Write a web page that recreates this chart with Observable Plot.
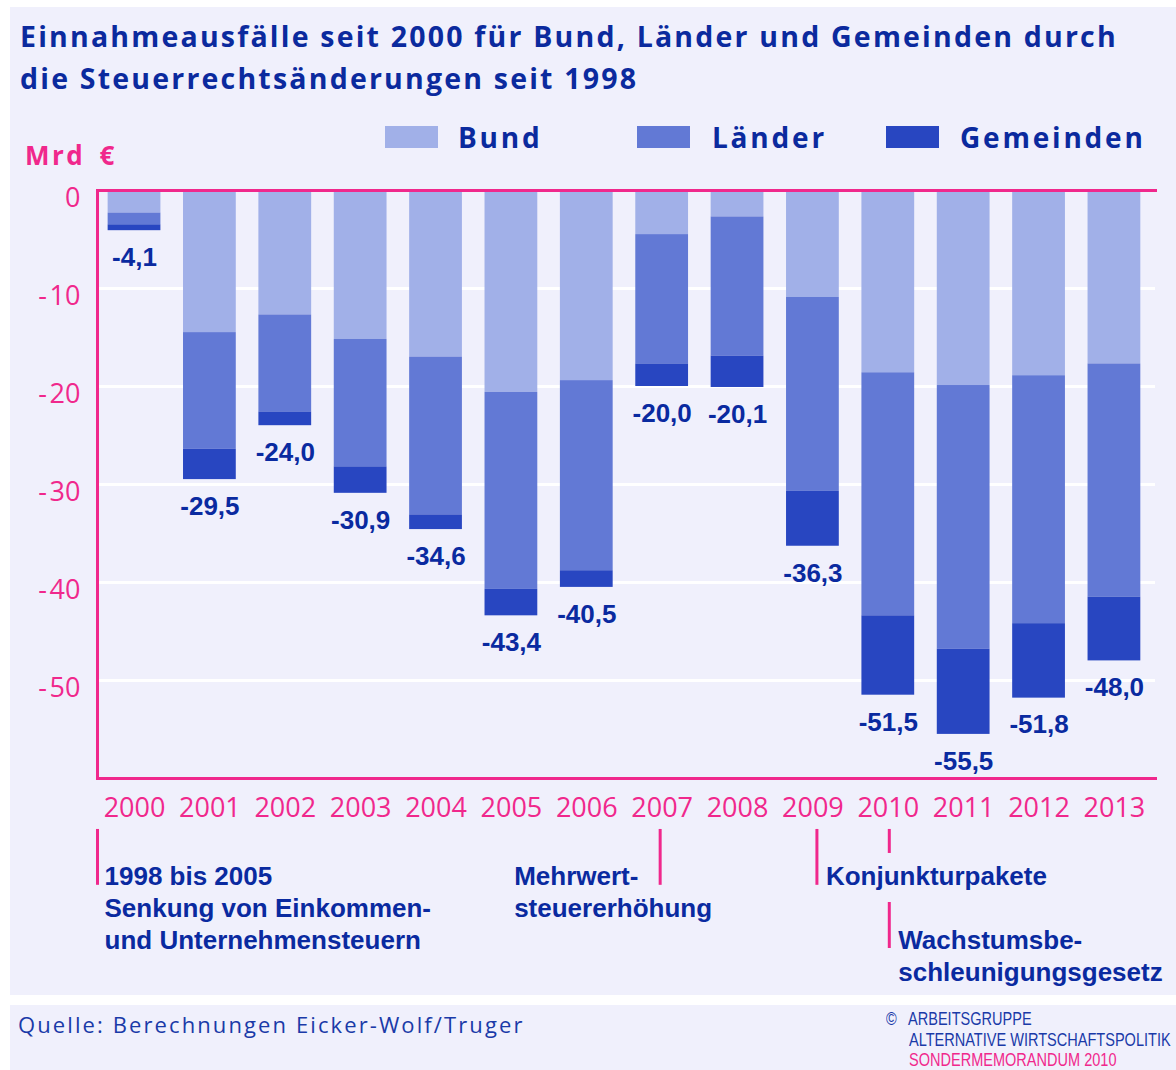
<!DOCTYPE html>
<html><head><meta charset="utf-8">
<script src="https://cdn.jsdelivr.net/npm/d3@7"></script>
<script src="https://cdn.jsdelivr.net/npm/@observablehq/plot@0.6"></script>
<style>
body{margin:0;width:1176px;height:1070px;background:#fff;position:relative;overflow:hidden;font-family:'Open Sans',sans-serif;}
.panel{position:absolute;left:10px;width:1166px;background:#f0f0fc;}
#title{position:absolute;left:20px;top:15px;font-size:28.5px;font-weight:700;letter-spacing:2.2px;color:#0b2a9e;line-height:42px;white-space:nowrap;}
.sw{position:absolute;width:53px;height:22px;top:126px;}
.lt{position:absolute;top:123px;font-size:28px;font-weight:700;letter-spacing:2.8px;color:#0b2a9e;line-height:28px;}
#unit{position:absolute;left:25px;top:142px;font-size:26px;font-weight:700;letter-spacing:2.5px;word-spacing:5px;color:#f0288c;line-height:26px;white-space:nowrap;}
#src{position:absolute;left:18px;top:1014px;font-size:22px;letter-spacing:2.1px;color:#1a3aa8;line-height:21px;white-space:nowrap;}
#copy{position:absolute;left:886px;top:1009px;font-family:'Liberation Sans',sans-serif;font-size:19px;line-height:20.5px;color:#1a3aa8;white-space:nowrap;}
#copy div{transform:scaleX(0.765);transform-origin:0 0;}
#chart{position:absolute;left:0;top:100px;}
</style></head>
<body>
<div class="panel" style="top:7px;height:988px"></div>
<div class="panel" style="top:1005px;height:65px"></div>
<div id="title">Einnahmeausfälle seit 2000 für Bund, Länder und Gemeinden durch<br>die Steuerrechtsänderungen seit 1998</div>
<div id="legend"></div>
<div id="unit">Mrd €</div>
<div id="chart"></div>
<div id="src">Quelle: Berechnungen Eicker-Wolf/Truger</div>
<div id="copy"><div>©&nbsp;&nbsp; ARBEITSGRUPPE</div><div style="padding-left:30px">ALTERNATIVE WIRTSCHAFTSPOLITIK</div><div style="padding-left:30px;color:#f0288c">SONDERMEMORANDUM 2010</div></div>
<script>
const years = ["2000","2001","2002","2003","2004","2005","2006","2007","2008","2009","2010","2011","2012","2013"];
const bund = [2.3,14.5,12.7,15.2,17.0,20.6,19.4,4.5,2.7,10.9,18.6,19.9,18.9,17.7];
const laender = [1.2,11.9,9.9,13.0,16.1,20.1,19.4,13.2,14.2,19.8,24.8,26.9,25.3,23.8];
const gemeinden = [0.6,3.1,1.4,2.7,1.5,2.7,1.7,2.3,3.2,5.6,8.1,8.7,7.6,6.5];
const totals = [4.1,29.5,24.0,30.9,34.6,43.4,40.5,20.0,20.1,36.3,51.5,55.5,51.8,48.0];
const series = ["Bund","Länder","Gemeinden"];
const colors = ["#a1b0e8","#6279d5","#2846c1"];
const yTicks = [0,-10,-20,-30,-40,-50];
const annotations = [
  {year:"2000", text:"1998 bis 2005\nSenkung von Einkommen-\nund Unternehmensteuern"},
  {year:"2007", text:"Mehrwert-\nsteuererhöhung"},
  {year:"2009", text:"Konjunkturpakete"},
  {year:"2010", text:"Wachstumsbe-\nschleunigungsgesetz"}
];

const PINK = "#f0288c", BLUE = "#0a2aa0";
const LBL = "'Liberation Sans', Arial, sans-serif";

// legend
const legendX = [[385,458],[637,712],[886,960]];
const lg = document.getElementById("legend");
series.forEach((s,i)=>{
  const sw = document.createElement("div"); sw.className="sw";
  sw.style.left = legendX[i][0]+"px"; sw.style.background = colors[i];
  const t = document.createElement("div"); t.className="lt";
  t.style.left = legendX[i][1]+"px"; t.textContent = s;
  lg.append(sw,t);
});

const arrs = [bund, laender, gemeinden];
const rows = years.flatMap((y,i)=>series.map((s,j)=>({year:y, series:s, value:-arrs[j][i]})));
const totalRows = years.map((y,i)=>({year:y, total:-totals[i]}));

const ruleStyle = {stroke:PINK, strokeWidth:3};
const annText = {fill:BLUE, fontSize:26, fontWeight:"bold", fontFamily:LBL, textAnchor:"start",
  frameAnchor:"bottom", lineAnchor:"top", lineHeight:1.23};

const chart = Plot.plot({
  width:1176, height:900,
  marginTop:90, marginBottom:222, marginLeft:97, marginRight:21,
  style:{background:"transparent", fontFamily:"'Open Sans', sans-serif", overflow:"visible"},
  x:{domain:years, paddingInner:0.3, paddingOuter:0.168, align:0.42, round:false},
  y:{domain:[-60,0]},
  color:{domain:series, range:colors},
  marks:[
    Plot.ruleY(yTicks.filter(d=>d<0), {stroke:"#fff", strokeWidth:3}),
    Plot.barY(rows, {x:"year", y:"value", fill:"series"}),
    Plot.frame({anchor:"top", stroke:PINK, strokeWidth:3}),
    Plot.frame({anchor:"bottom", stroke:PINK, strokeWidth:3}),
    Plot.frame({anchor:"left", stroke:PINK, strokeWidth:3}),
    Plot.text(totalRows, {x:"year", y:"total", text:d=>d.total.toFixed(1).replace(".",","),
      dy:27, fill:BLUE, fontSize:26, fontWeight:"bold", fontFamily:LBL}),
    Plot.axisY({ticks:yTicks, tickSize:0, tickPadding:17, fontSize:27, fontWeight:500, color:PINK, dy:8, label:null,
      tickFormat:d=>d===0 ? "0" : "-\u200A" + Math.abs(d)}),
    Plot.axisX({tickSize:0, tickPadding:19, fontSize:27, fontWeight:500, color:PINK, label:null}),
    // annotations
    Plot.ruleX([annotations[0]], {x:"year", dx:-37, y1:-65.2, y2:-70.9, ...ruleStyle}),
    Plot.ruleX([annotations[1]], {x:"year", dx:-2, y1:-65.2, y2:-70.9, ...ruleStyle}),
    Plot.ruleX([annotations[2]], {x:"year", dx:4, y1:-65.2, y2:-70.9, ...ruleStyle}),
    Plot.ruleX([annotations[3]], {x:"year", dx:1, y1:-65.2, y2:-67.65, ...ruleStyle}),
    Plot.ruleX([annotations[3]], {x:"year", dx:1, y1:-72.65, y2:-77.35, ...ruleStyle}),
    Plot.text([annotations[0]], {x:"year", text:"text", dx:-30, dy:84, ...annText}),
    Plot.text([annotations[1]], {x:"year", text:"text", dx:-148, dy:84, ...annText}),
    Plot.text([annotations[2]], {x:"year", text:"text", dx:13, dy:84, ...annText}),
    Plot.text([annotations[3]], {x:"year", text:"text", dx:10, dy:148, ...annText})
  ]
});
document.getElementById("chart").append(chart);
</script>
</body></html>
